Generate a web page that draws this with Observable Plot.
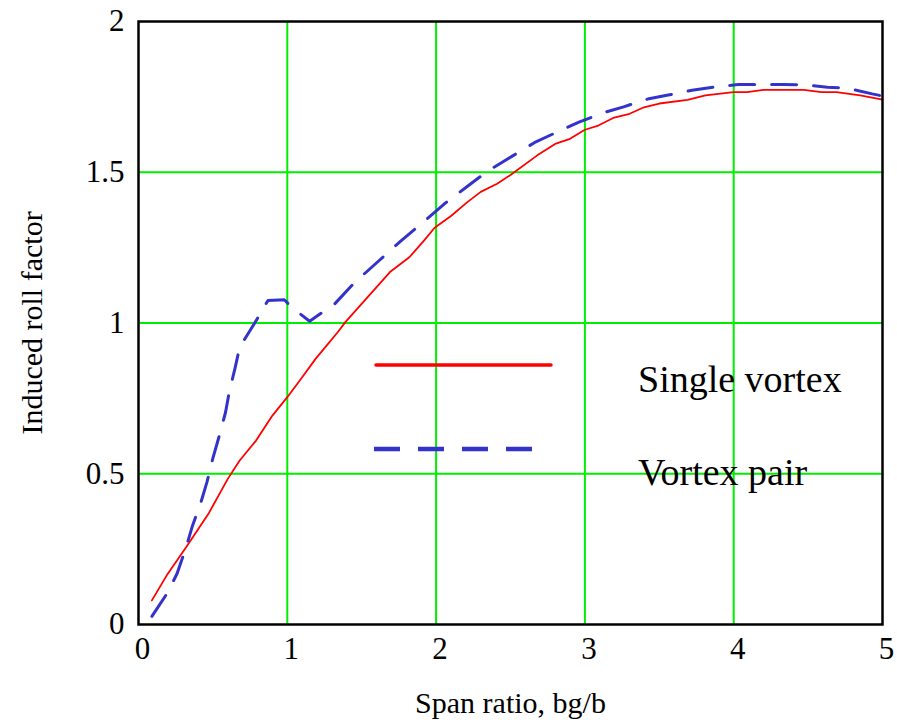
<!DOCTYPE html>
<html>
<head>
<meta charset="utf-8">
<script src="https://cdn.jsdelivr.net/npm/d3@7"></script>
<script src="https://cdn.jsdelivr.net/npm/@observablehq/plot@0.6"></script>
<style>
  html, body { margin: 0; padding: 0; background: #fff; }
  #wrap { position: relative; width: 897px; height: 720px; }
  .leg { position: absolute; font-family: "Liberation Serif", "DejaVu Serif", serif; font-size: 38px; color: #000; line-height: 1; white-space: nowrap; }
</style>
</head>
<body>
<div id="wrap"></div>
<script>
// Single vortex (red solid)
const singleX = [0.09,0.19,0.32,0.47,0.60,0.68,0.79,0.90,1.00,1.10,1.19,1.24,1.34,1.39,1.54,1.69,1.82,1.92,1.99,2.10,2.21,2.30,2.41,2.50,2.68,2.80,2.90,3.00,3.09,3.19,3.30,3.39,3.50,3.69,3.81,4.00,4.09,4.20,4.47,4.59,4.69,4.85,5.00];
const singleY = [0.080,0.163,0.256,0.367,0.483,0.544,0.610,0.693,0.754,0.820,0.881,0.911,0.970,1.003,1.086,1.169,1.218,1.274,1.316,1.355,1.401,1.435,1.462,1.491,1.556,1.594,1.611,1.641,1.655,1.680,1.694,1.714,1.728,1.740,1.755,1.766,1.766,1.773,1.773,1.766,1.766,1.755,1.741];
// Vortex pair (blue dashed)
const pairX = [0.09,0.20,0.26,0.32,0.36,0.42,0.46,0.50,0.54,0.585,0.61,0.65,0.68,0.78,0.87,0.98,1.03,1.15,1.32,1.45,1.61,1.76,1.92,2.05,2.22,2.35,2.52,2.66,2.82,2.96,3.12,3.26,3.43,3.56,3.72,3.86,4.03,4.16,4.33,4.47,4.63,4.76,4.93,4.98];
const pairY = [0.027,0.109,0.170,0.256,0.323,0.406,0.472,0.552,0.621,0.704,0.771,0.853,0.920,0.999,1.075,1.077,1.052,1.006,1.064,1.133,1.204,1.271,1.337,1.393,1.457,1.505,1.556,1.598,1.635,1.666,1.697,1.717,1.744,1.756,1.772,1.782,1.791,1.791,1.791,1.790,1.782,1.779,1.760,1.755];

const xTicks = [0,1,2,3,4,5];
const yTicks = [0,0.5,1,1.5,2];
const xGrid = [1,2,3,4];
const yGrid = [0.5,1,1.5];
const seriesNames = ["Single vortex","Vortex pair"];
const xLabel = "Span ratio, bg/b";
const yLabel = "Induced roll factor";

const single = singleX.map((x,i)=>({x, y: singleY[i]}));
const pair = pairX.map((x,i)=>({x, y: pairY[i]}));

const RED = "#ff0000", BLUE = "#3333cc", GREEN = "#00ee00";

const chart = Plot.plot({
  width: 897,
  height: 720,
  marginLeft: 138,
  marginRight: 15,
  marginTop: 21,
  marginBottom: 96,
  style: { fontFamily: "'Liberation Serif', 'DejaVu Serif', serif", fontSize: "31px", background: "#fff", color: "#000" },
  x: { domain: [0,5] },
  y: { domain: [0,2] },
  marks: [
    Plot.ruleX(xGrid, { stroke: GREEN, strokeWidth: 2, strokeOpacity: 1 }),
    Plot.ruleY(yGrid, { stroke: GREEN, strokeWidth: 2, strokeOpacity: 1 }),
    Plot.line(single, { x: "x", y: "y", stroke: RED, strokeWidth: 1.8 }),
    Plot.line(pair, { x: "x", y: "y", stroke: BLUE, strokeWidth: 3, strokeDasharray: "25,17" }),
    Plot.frame({ stroke: "#000", strokeWidth: 2.5 }),
    Plot.axisX(xTicks, { tickSize: 0, tickPadding: 12, fontSize: 31, label: null, tickFormat: d => String(d), dx: 4 }),
    Plot.axisY(yTicks, { tickSize: 0, tickPadding: 14, fontSize: 31, label: null, tickFormat: d => String(d) }),
    Plot.text([xLabel], { frameAnchor: "bottom", dy: 88, fontSize: 30, text: d => d }),
    Plot.text([yLabel], { frameAnchor: "left", textAnchor: "middle", dx: -106, rotate: -90, fontSize: 30, text: d => d })
  ]
});

const wrap = document.getElementById("wrap");
wrap.appendChild(chart);

// legend overlay
const legendItems = [
  { name: seriesNames[0], color: RED, dash: null, width: 3.5, lineLeft: 376, lineLen: 175, lineTop: 365, textTop: 360 },
  { name: seriesNames[1], color: BLUE, dash: "26,18", width: 4.5, lineLeft: 374, lineLen: 160, lineTop: 449, textTop: 453 }
];
for (const it of legendItems) {
  const svg = d3.create("svg").attr("width", it.lineLen + 4).attr("height", 10)
    .style("position","absolute").style("left", (it.lineLeft - 2) + "px").style("top", (it.lineTop - 5) + "px");
  svg.append("line").attr("x1", 2).attr("x2", it.lineLen + 2).attr("y1", 5).attr("y2", 5)
    .attr("stroke", it.color).attr("stroke-width", it.width)
    .attr("stroke-dasharray", it.dash).attr("stroke-linecap", it.dash ? "butt" : "round");
  wrap.appendChild(svg.node());
  const t = document.createElement("div");
  t.className = "leg";
  t.textContent = it.name;
  t.style.left = "638px";
  t.style.top = it.textTop + "px";
  wrap.appendChild(t);
}
</script>
</body>
</html>
